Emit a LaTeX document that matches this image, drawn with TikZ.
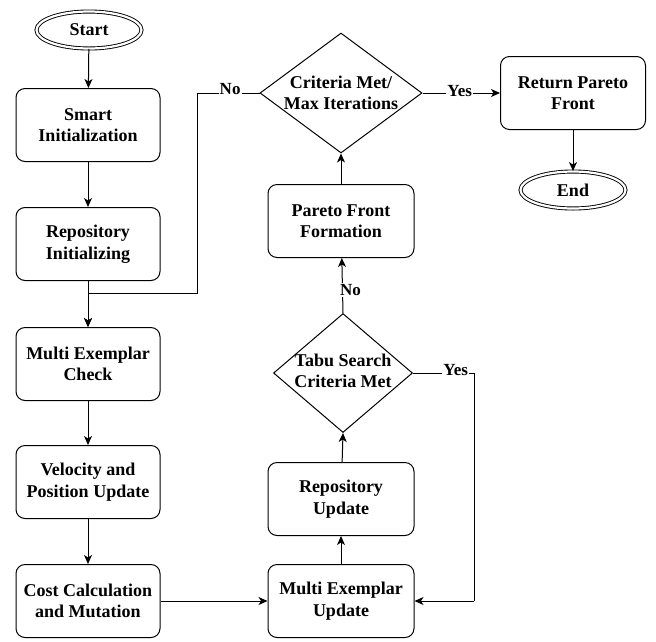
\documentclass[tikz,border=0pt]{standalone}
\usepackage{fontspec}
\setmainfont{Liberation Serif}
\usetikzlibrary{shapes.geometric,arrows.meta}
\begin{document}
\begin{tikzpicture}[x=1pt,y=-1pt,
  boxfont/.style={font=\bfseries\fontsize{18}{21.5}\selectfont},
  box/.style={draw, rounded corners=9pt, minimum width=144pt, minimum height=73pt, align=center, boxfont, line width=1pt, inner sep=2pt},
  term/.style={ellipse, draw, double, double distance=2.2pt, minimum width=105pt, minimum height=37pt, boxfont, line width=0.9pt},
  dia/.style={diamond, draw, line width=1pt, inner sep=0pt},
  txt/.style={align=center, boxfont, inner sep=0pt},
  line/.style={draw, line width=1pt, -{Stealth[length=9pt,width=8pt,inset=2.5pt]}},
  plain/.style={draw, line width=1pt},
  lab/.style={fill=white, font=\bfseries\fontsize{17}{20}\selectfont, inner sep=1pt}
]
\useasboundingbox (0,0) rectangle (656,641);
% left column
\node[term] (start) at (89,30) {Start};
\node[box] (smart) at (88,125) {Smart\\Initialization};
\node[box] (repoinit) at (88,244) {Repository\\Initializing};
\node[box] (mec) at (88,364) {Multi Exemplar\\Check};
\node[box] (vel) at (88,482) {Velocity and\\Position Update};
\node[box] (cost) at (88,601) {Cost Calculation\\and Mutation};
% middle column
\node[box, minimum width=146pt] (meu) at (341,601) {Multi Exemplar\\Update};
\node[box, minimum width=146pt] (repoupd) at (341,499) {Repository\\Update};
\node[dia, minimum width=139pt, minimum height=119pt] (tabu) at (343,373) {};
\node[txt] (tabutxt) at (343,371) {Tabu Search\\Criteria Met};
\node[box, minimum width=146pt] (pff) at (341,221) {Pareto Front\\Formation};
\node[dia, minimum width=162pt, minimum height=120pt] (crit) at (341,93) {};
\node[txt] (crittxt) at (341,93) {Criteria Met/\\Max Iterations};
% right column
\node[box, minimum width=145pt] (ret) at (573,93) {Return Pareto\\Front};
\node[term] (end) at (573,190) {End};
% bend coordinates
\coordinate (nA) at (197,93);
\coordinate (nB) at (197,293);
\coordinate (nC) at (88,293);
\coordinate (yA) at (474,373);
\coordinate (yB) at (474,601);
% connectors
\draw[line] (start) -- (smart);
\draw[line] (smart) -- (repoinit);
\draw[line] (repoinit) -- (mec);
\draw[line] (mec) -- (vel);
\draw[line] (vel) -- (cost);
\draw[line] (cost) -- (meu);
\draw[line] (meu) -- (repoupd);
\draw[line] (repoupd) -- (tabu.south);
\draw[line] (tabu.north) -- node[lab, pos=0.42, xshift=8pt] (labno2) {No} (pff);
\draw[line] (pff) -- (crit.south);
\draw[line] (crit.east) -- node[lab, pos=0.48, yshift=2pt] (labyes1) {Yes} (ret.west);
\draw[line] (ret) -- (end);
\draw[plain] (crit.west) -- node[lab, pos=0.47, yshift=4pt] (labno1) {No} (nA) -- (nB) -- (nC);
\draw[line] (nC) -- (mec.north);
\draw[plain] (tabu.east) -- node[lab, pos=0.7, yshift=3pt] (labyes2) {Yes} (yA) -- (yB);
\draw[line] (yB) -- (meu.east);
\end{tikzpicture}
\end{document}
